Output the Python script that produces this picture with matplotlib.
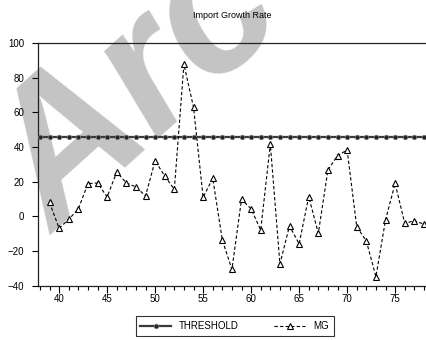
import matplotlib
matplotlib.use("Agg")
import matplotlib.pyplot as plt
from matplotlib.ticker import MultipleLocator

plt.rcParams['font.family'] = ['Liberation Sans', 'DejaVu Sans']

years = list(range(38, 79))
threshold = [45.5] * len(years)
mg_years = list(range(39, 79))
mg = [8.0, -7.0, -1.8, 4.2, 18.8, 19.2, 11.1, 25.5, 19.2, 16.9,
      11.7, 32.0, 23.2, 15.5, 87.7, 62.9, 10.9, 21.9, -13.7, -30.7,
      9.8, 4.2, -8.0, 41.7, -27.6, -5.5, -16.0, 11.3, -9.9, 26.7,
      35.0, 38.2, -6.0, -14.3, -34.9, -2.2, 19.0, -4.1, -2.6, -4.6]

W, H = 427, 340
fig = plt.figure(figsize=(W / 100, H / 100), dpi=100)
ax = fig.add_axes([38 / W, 1 - 285.5 / H, (W - 38) / W, (285.5 - 43) / H])
ax.set_facecolor('none')

# watermark
fig.text(55 / W, 1 - 236 / H, "Arc", rotation=42, rotation_mode='anchor',
         ha='left', va='baseline', fontsize=138, fontweight='bold', fontstyle='italic',
         family='Liberation Sans', color='#c4c4c4', zorder=-1)

ax.plot(years, threshold, '-', color='#3a3a3a', lw=1.6, marker='o', ms=3.2,
        mfc='#222222', mec='#777777', mew=0.6, label='THRESHOLD', zorder=3)
ax.plot(mg_years, mg, '--', color='black', lw=0.8, dashes=(3, 2), marker='^',
        ms=4.2, mfc='white', mec='black', mew=0.8, label='MG', zorder=4)

ax.set_xlim(37.8, 38 + (W - 38) / 9.6 - 0.2)
ax.set_ylim(-40, 100)
ax.yaxis.set_major_locator(MultipleLocator(20))
ax.xaxis.set_major_locator(MultipleLocator(5))
ax.xaxis.set_minor_locator(MultipleLocator(1))
ax.spines['right'].set_visible(False)
for s in ['left', 'top', 'bottom']:
    ax.spines[s].set_linewidth(0.9)
    ax.spines[s].set_color('#222222')
ax.tick_params(axis='y', direction='out', length=4, width=0.8, labelsize=7, pad=6)
ax.tick_params(axis='x', which='major', direction='out', length=5, width=0.8, labelsize=7, pad=1)
ax.tick_params(axis='x', which='minor', direction='out', length=3, width=0.8)

fig.text(232 / W, 1 - 15 / H, "Import Growth Rate", ha='center', va='center', fontsize=6.5)

leg = fig.legend(loc='center', bbox_to_anchor=(234.5 / W, 1 - 326 / H), ncol=2,
                 frameon=True, fancybox=False, edgecolor='black', fontsize=7,
                 handlelength=3.2, columnspacing=3.6, borderpad=0.5, handletextpad=0.8)
leg.get_frame().set_linewidth(0.8)

fig.savefig('out.png', dpi=100)
